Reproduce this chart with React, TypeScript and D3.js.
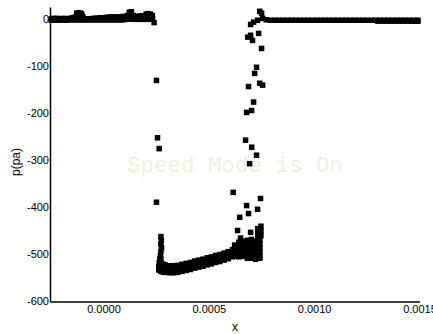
import React from "react";
import * as d3 from "d3";

// ---- data (x in metres, p in pa) ----
const upstream: [number, number][] = [
  [-0.00025,-2],[-0.00025,1],[-0.00024,-1],[-0.00024,2],[-0.00023,-2],[-0.00023,1],[-0.00022,-1],[-0.00022,2],
  [-0.00021,-2],[-0.00021,1],[-0.0002,-1],[-0.0002,1],[-0.00019,-1],[-0.00019,2],[-0.00018,-2],[-0.00018,1],
  [-0.00017,-1],[-0.00017,1],[-0.00016,-1],[-0.00016,2],[-0.00015,-1],[-0.00015,3],[-0.00014,-1],[-0.00014,4],
  [-0.00013,-1],[-0.00013,8],[-0.00013,13],[-0.00012,-1],[-0.00012,7],[-0.00012,14],[-0.00011,-1],[-0.00011,7],
  [-0.00011,13],[-0.000105,10],[-0.0001,-1],[-0.0001,5],[-0.00009,-1],[-0.00009,1],[-0.00008,-1],[-0.00008,1],
  [-0.00007,-1],[-0.00007,1],[-0.00006,-1],[-0.00006,1],[-0.00005,-1],[-0.00005,2],[-0.00004,-1],[-0.00004,2],
  [-0.00003,-1],[-0.00003,2],[-0.00002,-1],[-0.00002,3],[-0.00001,-1],[-0.00001,3],[0,-1],[0,3],
  [0.00001,-1],[0.00001,4],[0.00002,-1],[0.00002,4],[0.00003,-1],[0.00003,5],[0.00004,-1],[0.00004,4],
  [0.00005,-1],[0.00005,5],[0.00006,-1],[0.00006,5],[0.00007,-1],[0.00007,4],[0.00008,-1],[0.00008,5],
  [0.00009,-1],[0.00009,6],[0.0001,0],[0.0001,5],[0.00011,0],[0.00011,8],[0.00012,1],[0.00012,9],[0.00012,15],
  [0.00013,1],[0.00013,9],[0.00013,16],[0.00014,0],[0.00014,8],[0.00015,0],[0.00015,5],[0.00016,0],[0.00016,6],
  [0.00017,0],[0.00017,7],[0.00018,0],[0.00018,7],[0.00019,0],[0.00019,7],[0.0002,0],[0.0002,6],[0.0002,11],
  [0.00021,0],[0.00021,6],[0.00021,12],[0.00022,0],[0.00022,6],[0.00022,11],[0.00023,1],[0.00023,8],[0.000238,-7],
];

const drop: [number, number][] = [
  [0.000249,-130],[0.000254,-252],[0.000262,-275],[0.000249,-389],
];

const column: [number, number][] = [
  [0.00027,-462],[0.000272,-470],[0.00027,-478],[0.000273,-486],[0.00027,-494],[0.000268,-502],
  [0.000265,-510],[0.00027,-510],[0.000262,-518],[0.00027,-518],[0.00026,-526],[0.00027,-526],
  [0.00026,-533],[0.00027,-536],[0.00028,-537],[0.000285,-538],[0.00028,-528],[0.000278,-520],
];

const troughX = [0.00029,0.00031,0.00033,0.00035,0.00037,0.00039,0.00041,0.00043,0.00045,0.00047,0.00049,0.00051,0.00053,0.00055,0.00057,0.00059,0.00061];
const troughUpper = [-522,-524,-524,-523,-521,-519,-517,-514,-512,-510,-507,-505,-502,-500,-497,-494,-490];
const troughMid = [-529,-531,-531,-530,-528,-526,-524,-521,-519,-517,-514,-512,-509,-507,-504,-501,-497];
const troughLower = [-537,-539,-539,-538,-536,-534,-532,-529,-527,-525,-522,-520,-517,-515,-512,-509,-505];

const cluster: [number, number][] = [
  [0.00062,-480],[0.00062,-488],[0.00062,-496],[0.00062,-503],
  [0.00064,-474],[0.00064,-482],[0.00064,-490],[0.00064,-498],[0.00064,-505],
  [0.00066,-472],[0.00066,-480],[0.00066,-488],[0.00066,-496],[0.00066,-504],
  [0.00068,-470],[0.00068,-478],[0.00068,-486],[0.00068,-494],[0.00068,-502],[0.00068,-508],
  [0.0007,-468],[0.0007,-476],[0.0007,-484],[0.0007,-492],[0.0007,-500],[0.0007,-508],
  [0.00072,-472],[0.00072,-480],[0.00072,-488],[0.00072,-496],[0.00072,-504],[0.00072,-510],
  [0.00074,-470],[0.00074,-478],[0.00074,-486],[0.00074,-494],[0.00074,-502],[0.00074,-508],
  [0.000745,-440],[0.000745,-450],[0.000745,-460],[0.00073,-445],[0.00073,-455],[0.00073,-465],
];

const scatter: [number, number][] = [
  [0.000613,-368],[0.000743,-381],[0.000729,-404],[0.000677,-396],[0.000644,-421],[0.000686,-413],
  [0.000634,-449],[0.000696,-453],[0.000648,-465],
  [0.000739,17],[0.000748,13],[0.000753,2],[0.00071,-6],[0.000729,-2],[0.000696,-11],[0.000734,-30],
  [0.000696,-34],[0.000682,-38],[0.000705,-45],[0.000748,-62],[0.000724,-102],[0.000715,-115],
  [0.000686,-143],[0.000739,-136],[0.000753,-140],[0.00071,-176],[0.000701,-194],[0.000677,-198],
  [0.000672,-257],[0.000701,-272],[0.000724,-289],[0.000691,-307],
];

const downstreamX = [0.00077,0.00079,0.00081,0.00083,0.00085,0.00087,0.00089,0.00091,0.00093,0.00095,0.00097,0.00099,0.00101,0.00103,0.00105,0.00107,0.00109,0.00111,0.00113,0.00115,0.00117,0.00119,0.00121,0.00123,0.00125,0.00127,0.00129,0.00131,0.00133,0.00135,0.00137,0.00139,0.00141,0.00143,0.00145,0.00147,0.00149];
const downstreamP = [-1,-2,-2,-2,-2,-2,-2,-2,-2,-2,-2,-2,-2,-2,-2,-2,-2,-2,-2,-2,-2,-2,-2,-2,-2,-2,-2,-2,-2,-2,-2,-2,-2,-2,-2,-2,-2];
const downstreamLowX = [0.0013,0.00132,0.00134,0.00136,0.00138,0.0014,0.00142,0.00144,0.00146,0.00148,0.00149];
const downstreamLowP = [-4,-4,-4,-4,-4,-4,-4,-4,-4,-4,-4];

const xTicks = [0, 0.0005, 0.001, 0.0015];
const yTicks = [0, -100, -200, -300, -400, -500, -600];

const W = 433, H = 334;
const left = 50.5, right = 420, top = 7.5, bottom = 302;
const MS = 5.5;

export default function App() {
  const x = d3.scaleLinear().domain([-0.000254, 0.0015]).range([left, right]);
  const y = d3.scaleLinear().domain([-600, 24]).range([bottom - 0.5, 8]);

  const pts: [number, number][] = [
    ...upstream,
    ...drop,
    ...column,
    ...troughX.map((v, i) => [v, troughUpper[i]] as [number, number]),
    ...troughX.map((v, i) => [v, troughMid[i]] as [number, number]),
    ...troughX.map((v, i) => [v, troughLower[i]] as [number, number]),
    ...cluster,
    ...scatter,
    ...downstreamX.map((v, i) => [v, downstreamP[i]] as [number, number]),
    ...downstreamLowX.map((v, i) => [v, downstreamLowP[i]] as [number, number]),
  ];
  const fmt = d3.format(".4f");
  const font = "'Liberation Sans', Arial, sans-serif";

  return (
    <svg width={W} height={H} style={{ position: "absolute", left: 0, top: 0, background: "#fff" }}>
      <rect x={0} y={0} width={W} height={H} fill="#fff" />
      <text x={235} y={172} textAnchor="middle" fontFamily="'Liberation Mono', 'Courier New', monospace"
        fontSize={22.5} fill="#f2efdf">Speed Mode is On</text>
      {pts.map(([a, b], i) => (
        <rect key={i} x={x(a) - MS / 2} y={y(b) - MS / 2} width={MS} height={MS} fill="#000" />
      ))}
      <line x1={left} x2={left} y1={top} y2={bottom} stroke="#000" strokeWidth={1.5} />
      <line x1={left} x2={right} y1={bottom} y2={bottom} stroke="#000" strokeWidth={1.5} />
      {yTicks.map((t) => (
        <text key={t} x={49} y={y(t)} dy="0.36em" textAnchor="end" fontFamily={font} fontSize={11} fill="#000">{t}</text>
      ))}
      {xTicks.map((t) => (
        <text key={t} x={x(t)} y={309} dy="0.36em" textAnchor="middle" fontFamily={font} fontSize={11} fill="#000">{fmt(t)}</text>
      ))}
      <text x={235} y={327} dy="0.36em" textAnchor="middle" fontFamily={font} fontSize={12} fill="#000">x</text>
      <text transform={`translate(16,162) rotate(-90)`} dy="0.36em" textAnchor="middle" fontFamily={font} fontSize={12} fill="#000">p(pa)</text>
    </svg>
  );
}
